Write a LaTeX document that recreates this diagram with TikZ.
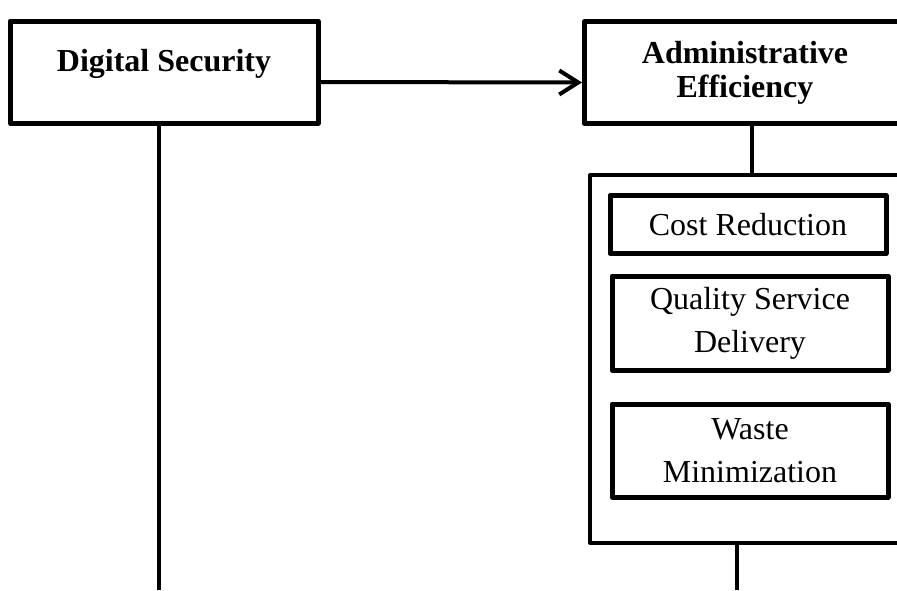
\documentclass[tikz,border=0pt]{standalone}
\usepackage{fontspec}
\setmainfont{Liberation Serif}
\usetikzlibrary{arrows.meta}

\begin{document}
\begin{tikzpicture}[x=1pt, y=-1pt,
    mainbox/.style={draw, line width=5pt, line join=round, inner sep=0pt, align=center,
        font=\fontsize{32}{34}\selectfont\bfseries},
    itembox/.style={draw, line width=5pt, line join=round, inner sep=0pt, align=center,
        minimum width=276pt, font=\fontsize{32}{43}\selectfont},
    groupbox/.style={draw, line width=4pt, line join=round, minimum width=318pt, minimum height=368pt},
    link/.style={line width=4pt}]
  \path[use as bounding box, clip] (0,0) rectangle (897,590);

  % top row
  \node[mainbox, minimum width=308pt, text height=50pt, text depth=52pt] (ds) at (164,72) {Digital Security};
  \node[mainbox, minimum width=321pt, minimum height=102pt] (ae) at (745,72.5) {Administrative\\Efficiency};

  % grouped outcomes
  \node[groupbox] (group) at (749,359) {};
  \node[itembox, minimum height=58pt] (cr) at (748,224.5) {Cost Reduction};
  \node[itembox, minimum height=94pt] (qsd) at (750,323) {Quality Service\\Delivery};
  \node[itembox, minimum height=93pt] (wm) at (750,450.5) {Waste\\Minimization};

  \coordinate (dsEnd) at (159,590);
  \coordinate (groupEnd) at (737,590);

  \draw[link, -{Straight Barb[length=19pt, width=24pt]}] ([yshift=-10pt]ds.east) -- ([yshift=-10pt]ae.west);
  \draw[link] (ds.south -| dsEnd) -- (dsEnd);
  \draw[link] ([xshift=7pt]ae.south) -- ([xshift=7pt]ae.south |- group.north);
  \draw[link] (group.south -| groupEnd) -- (groupEnd);
\end{tikzpicture}
\end{document}
